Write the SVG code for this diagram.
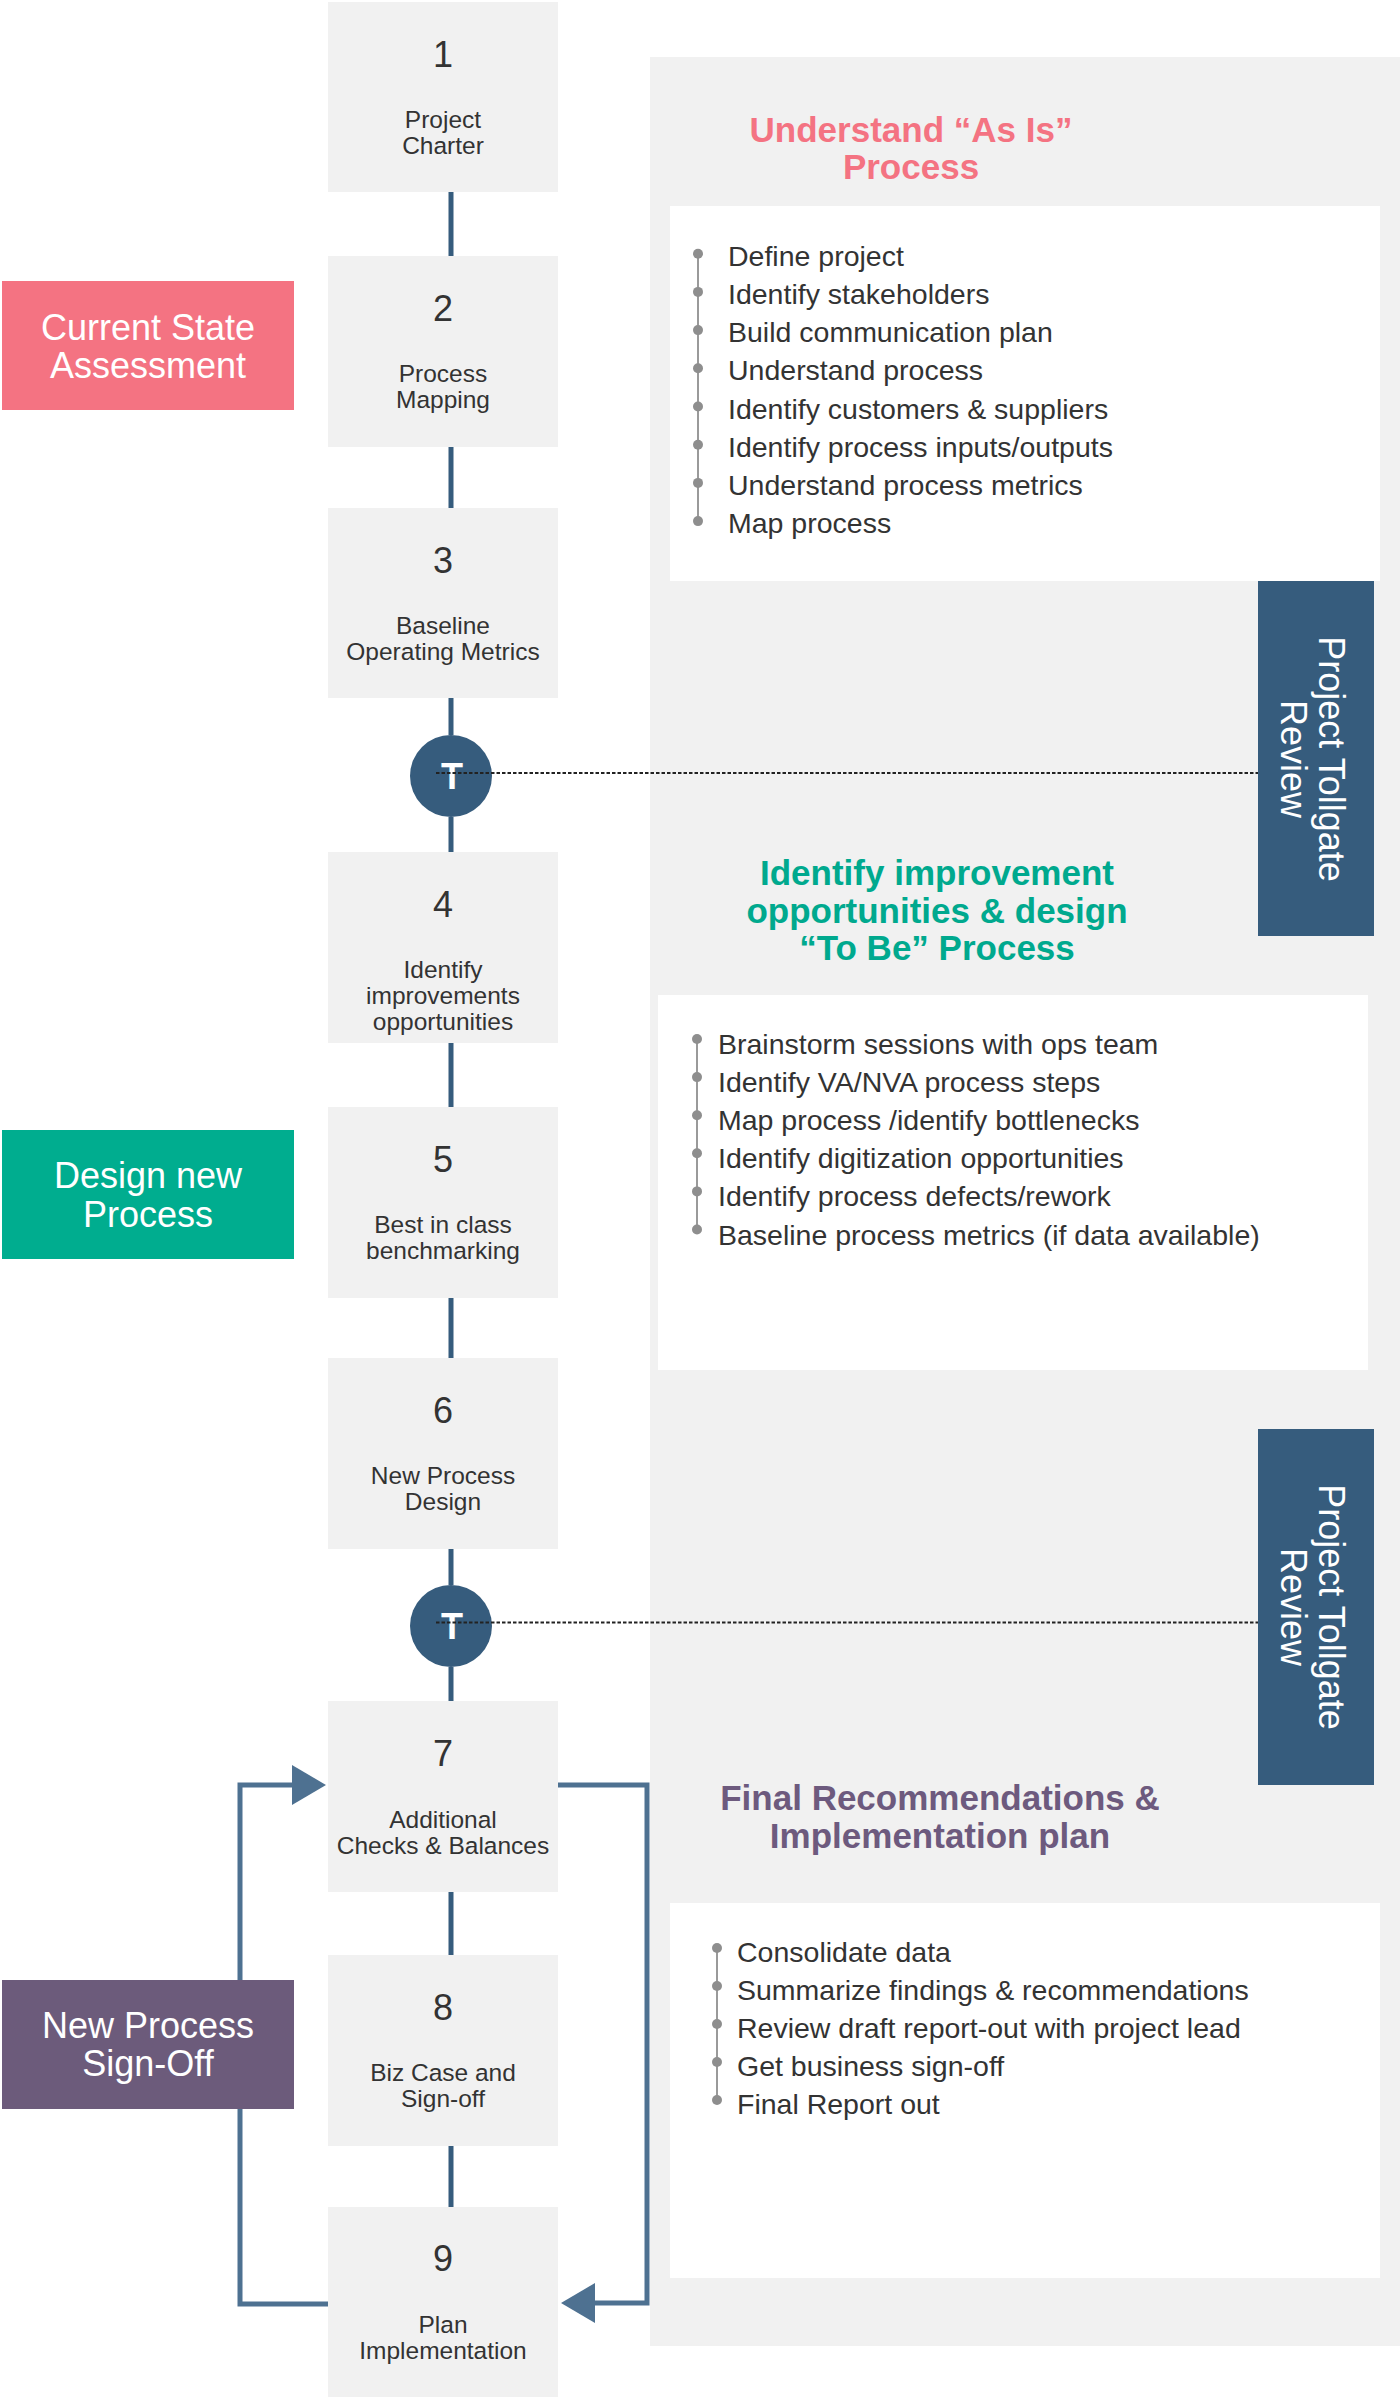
<svg xmlns="http://www.w3.org/2000/svg" width="1400" height="2397" viewBox="0 0 1400 2397">
<defs>
<style>
text{font-family:'Liberation Sans',Arial,sans-serif}
.box{fill:#F1F1F1}
.num{font-size:36px;fill:#333;text-anchor:middle}
.lbl{font-size:24.5px;fill:#333;text-anchor:middle}
.cat{font-size:36px;fill:#fff;text-anchor:middle}
.title{font-weight:bold;font-size:35px;text-anchor:middle}
.li{font-size:28.5px;fill:#333}
.dot{fill:#8E8E8E}
.rail{stroke:#9A9A9A;stroke-width:2}
.link{stroke:#365C7D;stroke-width:5;fill:none}
.loop{stroke:#4E7191;stroke-width:5;fill:none}
.dots{stroke:#222;stroke-width:2;stroke-dasharray:3.5 2;fill:none}
.tg{fill:#365C7D}
.tgt{font-size:36px;fill:#fff;text-anchor:middle}
.tt{font-size:36px;font-weight:bold;fill:#fff;text-anchor:middle}
</style>
<marker id="ah" markerUnits="userSpaceOnUse" markerWidth="34" markerHeight="40" refX="0" refY="20" orient="auto" overflow="visible"><path d="M0,0 L34,20 L0,40 Z" fill="#4E7191"/></marker>
</defs>
<rect width="1400" height="2397" fill="#fff"/>
<g id="panel">
<rect x="650" y="57" width="750" height="2289" fill="#F1F1F1"/>
</g>
<g id="section-asis">
<text class="title" fill="#F47382" x="911" y="142">Understand “As Is”</text>
<text class="title" fill="#F47382" x="911" y="179">Process</text>
<rect x="670" y="206" width="710" height="375" fill="#fff"/>
<line class="rail" x1="698" y1="253.7" x2="698" y2="521.1"/>
<g class="dot">
<circle cx="698" cy="253.7" r="5"/><circle cx="698" cy="291.9" r="5"/><circle cx="698" cy="330.1" r="5"/><circle cx="698" cy="368.3" r="5"/><circle cx="698" cy="406.5" r="5"/><circle cx="698" cy="444.7" r="5"/><circle cx="698" cy="482.9" r="5"/><circle cx="698" cy="521.1" r="5"/>
</g>
<text class="li" x="728" y="265.7">Define project</text>
<text class="li" x="728" y="303.9">Identify stakeholders</text>
<text class="li" x="728" y="342.1">Build communication plan</text>
<text class="li" x="728" y="380.3">Understand process</text>
<text class="li" x="728" y="418.5">Identify customers &amp; suppliers</text>
<text class="li" x="728" y="456.7">Identify process inputs/outputs</text>
<text class="li" x="728" y="494.9">Understand process metrics</text>
<text class="li" x="728" y="533.1">Map process</text>
</g>
<g id="section-tobe">
<text class="title" fill="#00A98E" x="937" y="885">Identify improvement</text>
<text class="title" fill="#00A98E" x="937" y="922.7">opportunities &amp; design</text>
<text class="title" fill="#00A98E" x="937" y="960">“To Be” Process</text>
<rect x="658" y="995" width="710" height="375" fill="#fff"/>
<line class="rail" x1="697" y1="1039" x2="697" y2="1229.5"/>
<g class="dot">
<circle cx="697" cy="1039" r="5"/><circle cx="697" cy="1077.1" r="5"/><circle cx="697" cy="1115.2" r="5"/><circle cx="697" cy="1153.3" r="5"/><circle cx="697" cy="1191.4" r="5"/><circle cx="697" cy="1229.5" r="5"/>
</g>
<text class="li" x="718" y="1054">Brainstorm sessions with ops team</text>
<text class="li" x="718" y="1092.1">Identify VA/NVA process steps</text>
<text class="li" x="718" y="1130.2">Map process /identify bottlenecks</text>
<text class="li" x="718" y="1168.3">Identify digitization opportunities</text>
<text class="li" x="718" y="1206.4">Identify process defects/rework</text>
<text class="li" x="718" y="1244.5">Baseline process metrics (if data available)</text>
</g>
<g id="section-final">
<text class="title" fill="#6D5A7E" x="940" y="1810">Final Recommendations &amp;</text>
<text class="title" fill="#6D5A7E" x="940" y="1848">Implementation plan</text>
<rect x="670" y="1903" width="710" height="375" fill="#fff"/>
<line class="rail" x1="717" y1="1948" x2="717" y2="2100"/>
<g class="dot">
<circle cx="717" cy="1948" r="5"/><circle cx="717" cy="1986" r="5"/><circle cx="717" cy="2024" r="5"/><circle cx="717" cy="2062" r="5"/><circle cx="717" cy="2100" r="5"/>
</g>
<text class="li" x="737" y="1962">Consolidate data</text>
<text class="li" x="737" y="2000">Summarize findings &amp; recommendations</text>
<text class="li" x="737" y="2038">Review draft report-out with project lead</text>
<text class="li" x="737" y="2076">Get business sign-off</text>
<text class="li" x="737" y="2114">Final Report out</text>
</g>
<g id="tollgate1">
<rect class="tg" x="1258" y="581" width="116" height="355"/>
<g transform="translate(1318.6,759) rotate(90)"><text class="tgt" x="0" y="0">Project Tollgate</text><text class="tgt" x="0" y="38">Review</text></g>
</g>
<g id="tollgate2">
<rect class="tg" x="1258" y="1429" width="116" height="356"/>
<g transform="translate(1318.6,1607) rotate(90)"><text class="tgt" x="0" y="0">Project Tollgate</text><text class="tgt" x="0" y="38">Review</text></g>
</g>
<g id="cat-current">
<rect x="2" y="281" width="292" height="129" fill="#F47382"/>
<text class="cat" x="148" y="340">Current State</text>
<text class="cat" x="148" y="377.7">Assessment</text>
</g>
<g id="cat-design">
<rect x="2" y="1130" width="292" height="129" fill="#00AD8F"/>
<text class="cat" x="148" y="1188">Design new</text>
<text class="cat" x="148" y="1226.7">Process</text>
</g>
<g id="cat-signoff">
<rect x="2" y="1980" width="292" height="129" fill="#6C5B7B"/>
<text class="cat" x="148" y="2038">New Process</text>
<text class="cat" x="148" y="2076">Sign-Off</text>
</g>
<g id="step1"><rect class="box" x="328" y="2" width="230" height="190"/><text class="num" x="443" y="66.5">1</text><text class="lbl" x="443" y="128">Project</text><text class="lbl" x="443" y="154">Charter</text></g>
<g id="step2"><rect class="box" x="328" y="256" width="230" height="191"/><text class="num" x="443" y="320.5">2</text><text class="lbl" x="443" y="382">Process</text><text class="lbl" x="443" y="408">Mapping</text></g>
<g id="step3"><rect class="box" x="328" y="508" width="230" height="190"/><text class="num" x="443" y="572.5">3</text><text class="lbl" x="443" y="634">Baseline</text><text class="lbl" x="443" y="660">Operating Metrics</text></g>
<g id="tollgate-t1"><circle cx="451" cy="776" r="41" fill="#365C7D"/><text class="tt" x="452" y="789">T</text></g>
<g id="step4"><rect class="box" x="328" y="852" width="230" height="191"/><text class="num" x="443" y="917">4</text><text class="lbl" x="443" y="978">Identify</text><text class="lbl" x="443" y="1004">improvements</text><text class="lbl" x="443" y="1030">opportunities</text></g>
<g id="step5"><rect class="box" x="328" y="1107" width="230" height="191"/><text class="num" x="443" y="1171.5">5</text><text class="lbl" x="443" y="1233">Best in class</text><text class="lbl" x="443" y="1259">benchmarking</text></g>
<g id="step6"><rect class="box" x="328" y="1358" width="230" height="191"/><text class="num" x="443" y="1422.5">6</text><text class="lbl" x="443" y="1484">New Process</text><text class="lbl" x="443" y="1510">Design</text></g>
<g id="tollgate-t2"><circle cx="451" cy="1626" r="41" fill="#365C7D"/><text class="tt" x="452" y="1639">T</text></g>
<g id="step7"><rect class="box" x="328" y="1701" width="230" height="191"/><text class="num" x="443" y="1765.5">7</text><text class="lbl" x="443" y="1827.5">Additional</text><text class="lbl" x="443" y="1853.5">Checks &amp; Balances</text></g>
<g id="step8"><rect class="box" x="328" y="1955" width="230" height="191"/><text class="num" x="443" y="2019.5">8</text><text class="lbl" x="443" y="2081">Biz Case and</text><text class="lbl" x="443" y="2107">Sign-off</text></g>
<g id="step9"><rect class="box" x="328" y="2207" width="230" height="190"/><text class="num" x="443" y="2270.5">9</text><text class="lbl" x="443" y="2333">Plan</text><text class="lbl" x="443" y="2359">Implementation</text></g>
<g id="connectors">
<path class="link" d="M451,192V256M451,447V508M451,698V735M451,817V852M451,1043V1107M451,1298V1358M451,1549V1585M451,1667V1701M451,1892V1955M451,2146V2207"/>
<path class="dots" d="M436,773H1258"/>
<path class="dots" d="M436,1622.5H1258"/>
<path class="loop" d="M328,2304H240V2109"/>
<path class="loop" d="M240,1980V1785H292" marker-end="url(#ah)"/>
<path class="loop" d="M558,1785H647V2303H595" marker-end="url(#ah)"/>
</g>
</svg>
